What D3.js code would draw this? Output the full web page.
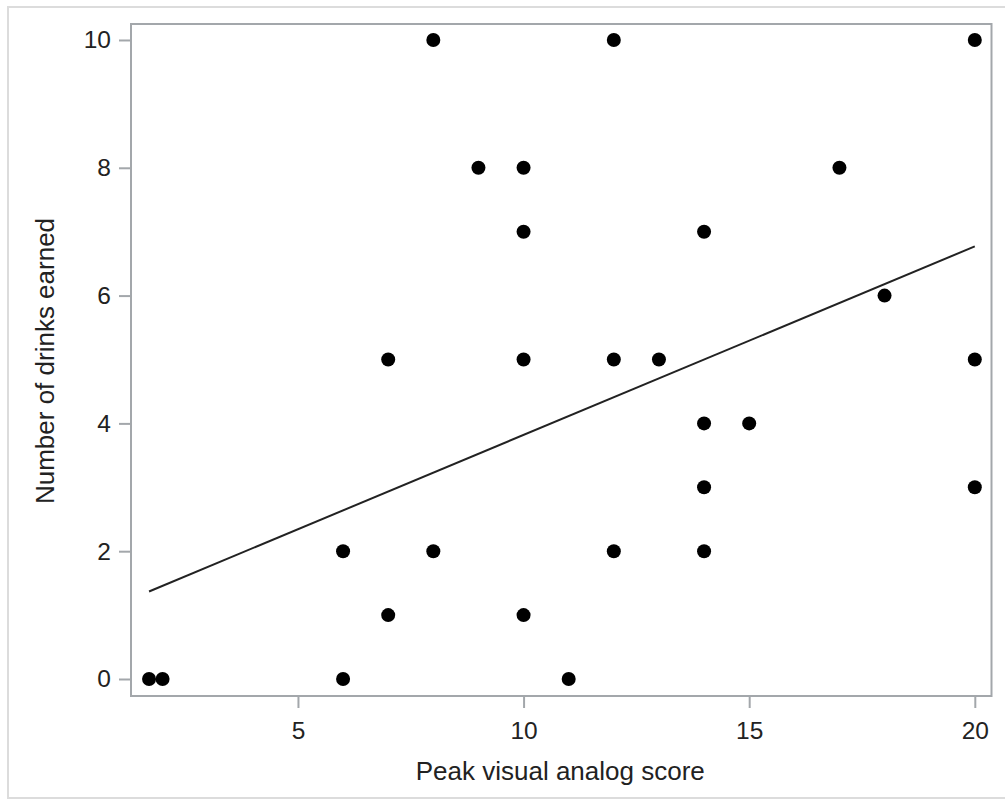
<!DOCTYPE html>
<html lang="en">
<head>
    <meta charset="UTF-8">
    <style>
        body { margin: 0; background: #fff; }
        text { font-family: "Liberation Sans", Arial, sans-serif; fill: #222; }
        .axis path, .axis line { stroke: #a3a7ab; stroke-width: 2px; }
    </style>
    <title>Peak visual analog score vs drinks earned</title>
</head>
<body>
<script src="https://d3js.org/d3.v7.min.js" charset="utf-8"></script>
<script>
    // data
    var peakScore = [1.7, 2, 6, 6, 7, 7, 8, 8, 9, 10, 10, 10, 10, 11, 12, 12, 12, 13, 14, 14, 14, 14, 15, 17, 18, 20, 20, 20];
    var drinks    = [0,   0, 0, 2, 1, 5, 10, 2, 8, 8,  7,  5,  1,  0,  10, 5,  2,  5,  7,  4,  3,  2,  4,  8,  6,  10, 5,  3];
    var fitX = [1.7, 20];
    var fitY = [1.37, 6.77];
    var xTicks = [5, 10, 15, 20];
    var yTicks = [0, 2, 4, 6, 8, 10];

    var width = 1005, height = 804;
    // plot frame edges (note: "top" is taken by window.top)
    var plotL = 131, plotR = 991.5, plotT = 24, plotB = 696;

    var svg = d3.select('body').append('svg').attr('width', width).attr('height', height);

    // light outer border
    svg.append('rect')
        .attr('x', 8).attr('y', 7)
        .attr('width', 1010).attr('height', 791)
        .attr('fill', 'none')
        .attr('stroke', '#dcdcdc')
        .attr('stroke-width', 2);

    var x = d3.scaleLinear().domain([1.3, 20.37]).range([plotL, plotR]);
    var y = d3.scaleLinear().domain([-0.266, 10.25]).range([plotB, plotT]);

    // frame
    svg.append('rect')
        .attr('x', plotL).attr('y', plotT)
        .attr('width', plotR - plotL).attr('height', plotB - plotT)
        .attr('fill', 'none')
        .attr('stroke', '#a3a7ab')
        .attr('stroke-width', 2);

    var xAxis = svg.append('g').attr('class', 'axis')
        .attr('transform', 'translate(0,' + plotB + ')')
        .call(d3.axisBottom(x).tickValues(xTicks).tickSize(12).tickPadding(14).tickSizeOuter(0));
    xAxis.select('.domain').remove();
    xAxis.selectAll('text').style('font-size', '24.5px').attr('fill', '#222');

    var yAxis = svg.append('g').attr('class', 'axis')
        .attr('transform', 'translate(' + plotL + ',0)')
        .call(d3.axisLeft(y).tickValues(yTicks).tickSize(12).tickPadding(8).tickSizeOuter(0));
    yAxis.select('.domain').remove();
    yAxis.selectAll('text').style('font-size', '24.5px').attr('fill', '#222');

    // regression line
    var line = d3.line()
        .x(function (d) { return x(d[0]); })
        .y(function (d) { return y(d[1]); });
    svg.append('path')
        .datum(d3.zip(fitX, fitY))
        .attr('d', line)
        .attr('fill', 'none')
        .attr('stroke', '#222')
        .attr('stroke-width', 2);

    svg.append('g')
        .selectAll('circle')
        .data(d3.zip(peakScore, drinks))
        .enter()
        .append('circle')
        .attr('cx', function (d) { return x(d[0]); })
        .attr('cy', function (d) { return y(d[1]); })
        .attr('r', 7)
        .attr('fill', '#000');

    svg.append('text')
        .attr('x', (plotL + plotR) / 2 - 1)
        .attr('y', 780)
        .attr('text-anchor', 'middle')
        .style('font-size', '26px')
        .text('Peak visual analog score');

    svg.append('text')
        .attr('transform', 'translate(54,361) rotate(-90)')
        .attr('text-anchor', 'middle')
        .style('font-size', '26px')
        .text('Number of drinks earned');
</script>
</body>
</html>
